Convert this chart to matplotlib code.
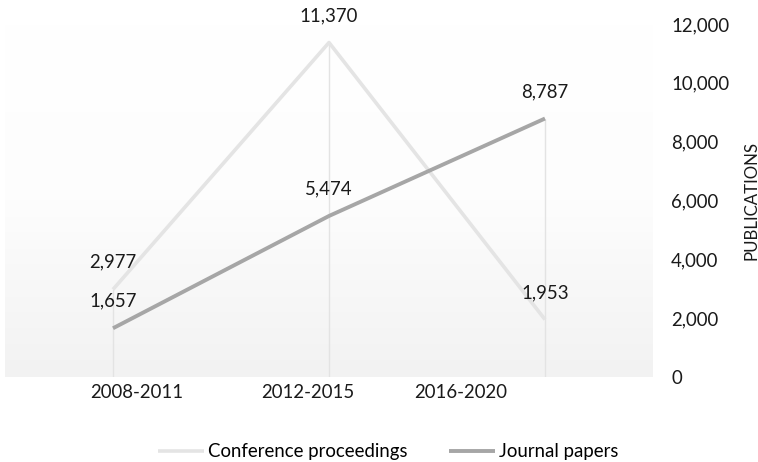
import numpy as np
import matplotlib
matplotlib.use("Agg")
import matplotlib.pyplot as plt
from matplotlib.colors import LinearSegmentedColormap

periods = ["2008-2011", "2012-2015", "2016-2020"]
conference = [2977, 11370, 1953]
journal = [1657, 5474, 8787]

# category label positions along the floor (perspective offset)
label_pos = [0.11, 0.90, 1.61]

plt.rcParams["font.family"] = ["Lato", "DejaVu Sans"]
FS = 13.4

fig = plt.figure(figsize=(7.58, 4.62), dpi=100)
W, H = 758, 462
ax = fig.add_axes([5 / W, (H - 377) / H, (653 - 5) / W, (377 - 24) / H])

# soft vertical gradient backdrop
cmap = LinearSegmentedColormap.from_list("bg", ["#f2f2f2", "#fdfdfd", "#ffffff"])
grad = np.linspace(0, 1, 256).reshape(-1, 1)
ax.imshow(grad, cmap=cmap, origin="lower", extent=[0, 1, 0, 1],
          transform=ax.transAxes, aspect="auto", zorder=0, vmin=0, vmax=1.0)

x = np.arange(len(periods))
top = np.maximum(conference, journal)
ax.vlines(x, 0, top, color="#e3e3e3", lw=1.0, zorder=1)

ax.plot(x, conference, color="#e4e4e4", lw=2.6, solid_capstyle="butt",
        label="Conference proceedings", zorder=2)
ax.plot(x, journal, color="#a6a6a6", lw=2.8, solid_capstyle="butt",
        label="Journal papers", zorder=3)

for xi, v in zip(x, conference):
    ax.annotate(f"{v:,}", (xi, v), xytext=(0, 19.5), textcoords="offset points",
                ha="center", va="center", fontsize=FS, color="#1a1a1a")
for xi, v in zip(x, journal):
    ax.annotate(f"{v:,}", (xi, v), xytext=(0, 19.5), textcoords="offset points",
                ha="center", va="center", fontsize=FS, color="#1a1a1a")

ax.set_xlim(-0.5, 2.5)
ax.set_ylim(0, 12000)
ax.set_xticks(label_pos)
ax.set_xticklabels(periods, fontsize=FS, color="#1a1a1a")
ax.tick_params(axis="x", length=0, pad=5)

ax.yaxis.tick_right()
ax.yaxis.set_label_position("right")
ax.set_yticks(np.arange(0, 12001, 2000))
ax.set_yticklabels([f"{t:,}" for t in range(0, 12001, 2000)], fontsize=FS,
                   color="#1a1a1a")
ax.tick_params(axis="y", length=0, pad=13)
ax.set_ylabel("PUBLICATIONS", fontsize=12.2, color="#1a1a1a", labelpad=10)

for s in ax.spines.values():
    s.set_visible(False)

fig.legend(loc="center", bbox_to_anchor=(388 / W, 1 - 452 / H), ncol=2,
           frameon=False, fontsize=FS, handlelength=2.5, handletextpad=0.2,
           columnspacing=2.2)

fig.savefig("out.png", dpi=100, facecolor="white")
